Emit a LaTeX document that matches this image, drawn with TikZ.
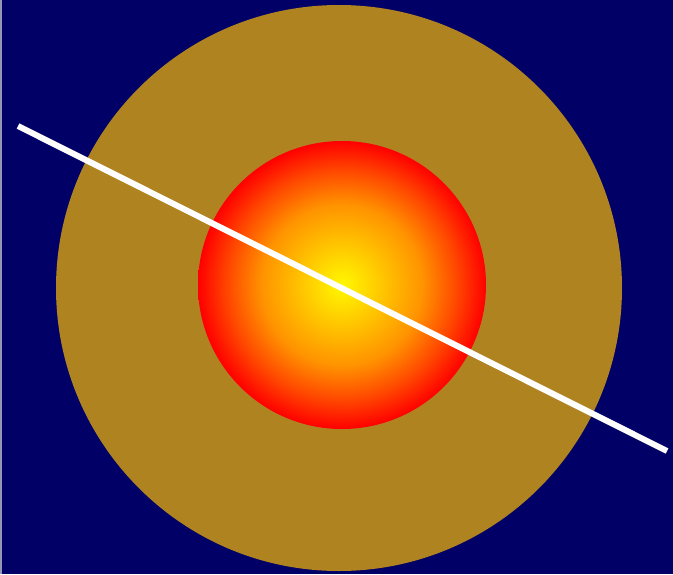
\documentclass[tikz,border=0pt]{standalone}
\usepackage{tikz}
\usetikzlibrary{calc, positioning}
\usepackage{xcolor}
\definecolor{skyNavy}{RGB}{0, 0, 102}
\definecolor{haloGold}{RGB}{176, 131, 33}
\definecolor{edgeGrey}{RGB}{150, 150, 180}
\pgfdeclareradialshading{sunglow}{\pgfpoint{0bp}{0bp}}{%
  color(0bp)=(yellow!95!orange); color(14bp)=(orange!85!yellow); color(20bp)=(red!45!orange); color(25bp)=(red); color(50bp)=(red)}

\begin{document}
\begin{tikzpicture}[
  x=1pt, y=-1pt,
  rod/.style={draw=white, line width=6pt, line cap=butt}
]
  \useasboundingbox (0,0) rectangle (673,574);
  % --- Background ---
  \fill[skyNavy] (0,0) rectangle (673,574);
  \draw[edgeGrey, line width=1.2pt] (1,0) -- (1,574);

  % --- Outer halo ---
  \coordinate (halo) at (339,288);
  \fill[haloGold] (halo) circle[radius=283];

  % --- Inner glowing disc ---
  \coordinate (core) at (342,285);
  \shade[shading=sunglow] (core) circle[radius=144];

  % --- Crossing rod ---
  \coordinate (rodA) at (18,126);
  \coordinate (rodB) at (667,451);
  \draw[rod] (rodA) -- (rodB);
\end{tikzpicture}
\end{document}
